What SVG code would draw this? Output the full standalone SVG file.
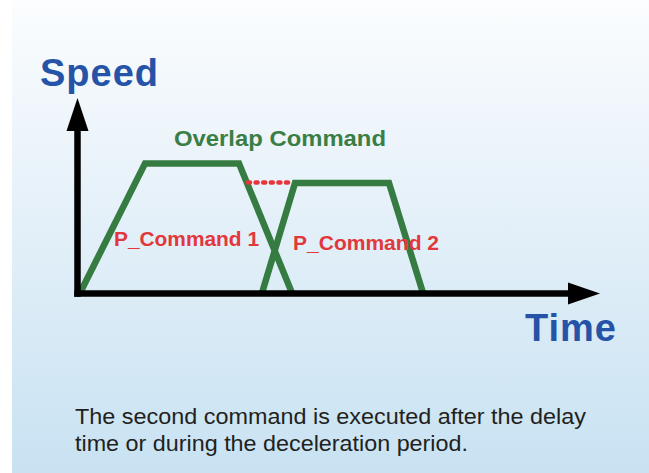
<svg xmlns="http://www.w3.org/2000/svg" width="649" height="473" viewBox="0 0 649 473">
  <defs>
    <linearGradient id="bg" x1="0" y1="0" x2="0" y2="1">
      <stop offset="0" stop-color="#fbfdfe"/>
      <stop offset="0.35" stop-color="#eaf3fa"/>
      <stop offset="1" stop-color="#c8e2f2"/>
    </linearGradient>
    <style>
      .axis { stroke: #000; stroke-width: 6.5; fill: none; }
      .head { fill: #000; }
      .curve { stroke: #367c42; stroke-width: 6.5; fill: none; stroke-linejoin: miter; }
      .dots { stroke: #e6363b; stroke-width: 4.5; stroke-linecap: round; stroke-dasharray: 2 5.6; fill: none; }
      .axlabel { font-family: "Liberation Sans", Arial, sans-serif; font-weight: bold; font-size: 38px; fill: #2553a7; }
      .title { font-family: "Liberation Sans", Arial, sans-serif; font-weight: bold; font-size: 22.5px; fill: #3a7e45; }
      .cmd { font-family: "Liberation Sans", Arial, sans-serif; font-weight: bold; font-size: 21px; fill: #e2383b; }
      .note { font-family: "Liberation Sans", Arial, sans-serif; font-size: 22px; fill: #231f20; }
    </style>
  </defs>
  <rect x="0" y="0" width="649" height="473" fill="#ffffff"/>
  <rect x="12" y="0" width="637" height="473" fill="url(#bg)"/>

  <g id="curves">
    <polyline class="curve" points="80,293 145,163.5 239,163.5 292,293"/>
    <polyline class="curve" points="262,293 295,183 389,183 423,293"/>
    <line class="dots" x1="248" y1="182.5" x2="291" y2="182.5"/>
  </g>

  <g id="axes">
    <line class="axis" x1="77.5" y1="296.8" x2="77.5" y2="128"/>
    <polygon class="head" points="66.5,131 77.5,98 88.5,131"/>
    <line class="axis" x1="74.3" y1="293.5" x2="570" y2="293.5"/>
    <polygon class="head" points="568,282.5 600,293.5 568,304.5"/>
  </g>

  <g id="labels">
    <text class="axlabel" x="40" y="86" letter-spacing="1">Speed</text>
    <text class="axlabel" x="525" y="341" letter-spacing="1">Time</text>
    <text class="title" x="174" y="146" textLength="212" lengthAdjust="spacingAndGlyphs">Overlap Command</text>
    <text class="cmd" x="114" y="246" textLength="145" lengthAdjust="spacingAndGlyphs">P_Command 1</text>
    <text class="cmd" x="293" y="249.5" textLength="146" lengthAdjust="spacingAndGlyphs">P_Command 2</text>
    <text class="note" x="75" y="424" textLength="511" lengthAdjust="spacingAndGlyphs">The second command is executed after the delay</text>
    <text class="note" x="75" y="451" textLength="393" lengthAdjust="spacingAndGlyphs">time or during the deceleration period.</text>
  </g>
</svg>
